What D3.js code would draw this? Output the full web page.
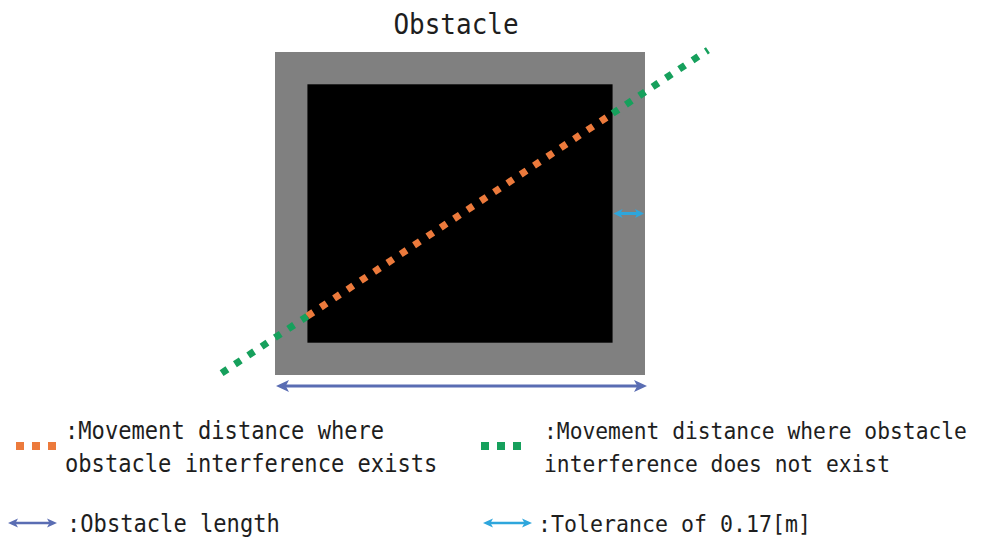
<!DOCTYPE html>
<html><head><meta charset="utf-8">
<script src="https://cdn.jsdelivr.net/npm/d3@7"></script>
<style>html,body{margin:0;background:#fff;overflow:hidden}</style>
</head><body><svg id="c" width="992" height="539"></svg>
<script>
// ---- data (model units: meters) ----
const titleText = "Obstacle";
const innerX = [0, 1.6];          // obstacle body, x extent
const innerY = [0, 1.36];         // obstacle body, y extent
const tolerance = 0.17;           // tolerance band [m]
const pathStart = [-0.45, -0.16]; // movement path start
const pathEnd = [2.10, 1.54];     // movement path end
const legendLabels = [
  [":Movement distance where", "obstacle interference exists"],
  [":Movement distance where obstacle", "interference does not exist"],
  [":Obstacle length"],
  [":Tolerance of 0.17[m]"]
];
const legendKinds = ["dotsOrange", "dotsGreen", "arrowBlue", "arrowCyan"];

// ---- styles ----
const C = {
  gray: "#808080", black: "#000000", orange: "#ec7a3c", green: "#16a05c",
  blue: "#5a6db3", cyan: "#2ea6dc", text: "#1e1e1e"
};
const FONT = "'DejaVu Sans Mono', 'Liberation Mono', monospace";

const svg = d3.select("#c");
const outerX = [innerX[0] - tolerance, innerX[1] + tolerance];
const outerY = [innerY[0] - tolerance, innerY[1] + tolerance];
const x = d3.scaleLinear().domain(outerX).range([275, 645]);
const y = d3.scaleLinear().domain(outerY).range([375, 52]);

// title
svg.append("text").attr("transform", "translate(456,34) scale(1,1.08)").attr("text-anchor", "middle")
  .attr("font-family", FONT).attr("font-size", 26).attr("fill", C.text).text(titleText);

// obstacle with tolerance band
svg.append("rect").attr("x", x(outerX[0])).attr("y", y(outerY[1]))
  .attr("width", x(outerX[1]) - x(outerX[0])).attr("height", y(outerY[0]) - y(outerY[1]))
  .attr("fill", C.gray);
svg.append("rect").attr("x", x(innerX[0])).attr("y", y(innerY[1]))
  .attr("width", x(innerX[1]) - x(innerX[0])).attr("height", y(innerY[0]) - y(innerY[1]))
  .attr("fill", C.black);

// movement path, split at the obstacle body
const lerpAtX = xv => {
  const t = (xv - pathStart[0]) / (pathEnd[0] - pathStart[0]);
  return [xv, pathStart[1] + t * (pathEnd[1] - pathStart[1])];
};
const pA = lerpAtX(innerX[0]), pB = lerpAtX(innerX[1]);
const line = d3.line().x(d => x(d[0])).y(d => y(d[1]));
const segs = [
  {pts: [pathStart, pA], color: C.green},
  {pts: [pA, pB], color: C.orange},
  {pts: [pB, pathEnd], color: C.green}
];
svg.selectAll("path.seg").data(segs).join("path").attr("class", "seg")
  .attr("d", d => line(d.pts)).attr("stroke", d => d.color)
  .attr("stroke-width", 7).attr("stroke-dasharray", "7 9").attr("fill", "none");

// double arrow helper
function dArrow(g, x1, x2, yy, color, head, half, w) {
  g.append("line").attr("x1", x1 + head * 0.7).attr("x2", x2 - head * 0.7)
    .attr("y1", yy).attr("y2", yy).attr("stroke", color).attr("stroke-width", w);
  g.append("path").attr("fill", color)
    .attr("d", `M${x1},${yy}L${x1 + head},${yy - half}L${x1 + head * 0.75},${yy}L${x1 + head},${yy + half}Z`);
  g.append("path").attr("fill", color)
    .attr("d", `M${x2},${yy}L${x2 - head},${yy - half}L${x2 - head * 0.75},${yy}L${x2 - head},${yy + half}Z`);
}

// obstacle length arrow
dArrow(svg, x(outerX[0]) + 1, x(outerX[1]) + 2, y(outerY[0]) + 11, C.blue, 13, 6, 3);
// tolerance arrow
dArrow(svg, x(innerX[1]) + 1, x(outerX[1]) - 1, y((innerY[0] + innerY[1]) / 2), C.cyan, 9, 4.5, 3);

// legend
const legPos = [
  {sx: 12, tx: 65, y: 439, fs: 22.1},
  {sx: 477, tx: 544, y: 439, fs: 21.3},
  {sx: 8, tx: 67, y: 532, fs: 22.1},
  {sx: 483, tx: 538, y: 532, fs: 21.6}
];
legendKinds.forEach((k, i) => {
  const p = legPos[i];
  const g = svg.append("g");
  if (k.startsWith("dots")) {
    const col = k === "dotsOrange" ? C.orange : C.green;
    g.selectAll("rect").data([0, 1, 2]).join("rect")
      .attr("x", d => p.sx + 4 + d * 16).attr("y", p.y + 3).attr("width", 8).attr("height", 8)
      .attr("fill", col);
  } else {
    const col = k === "arrowBlue" ? C.blue : C.cyan;
    dArrow(g, p.sx, p.sx + 49, p.y - 9, col, 10, 4.5, 2.5);
  }
  legendLabels[i].forEach((t, j) => {
    g.append("text").attr("transform", `translate(${p.tx},${p.y + j * 33}) scale(1,1.1)`)
      .attr("font-family", FONT).attr("font-size", p.fs).attr("fill", C.text).text(t);
  });
});
</script></body></html>
